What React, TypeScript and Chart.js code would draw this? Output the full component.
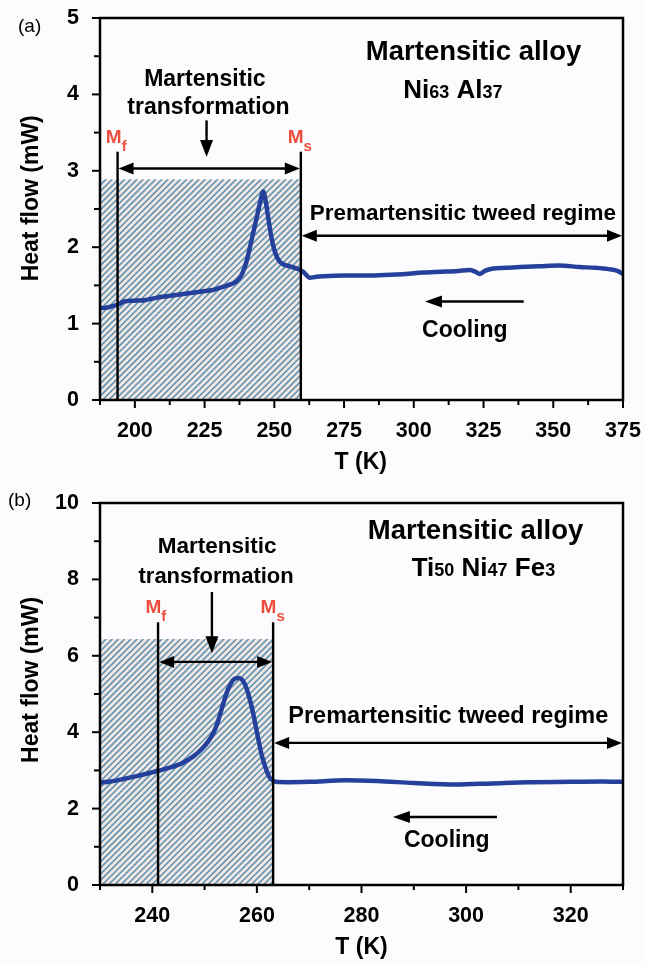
import React, { useEffect, useRef } from 'react';
import { Chart, registerables } from 'chart.js';

Chart.register(...registerables);

const FONT = '"Liberation Sans", Arial, Helvetica, sans-serif';
const RED = '#ee4b3b';
const CURVE = '#24409b';

// ---------- Panel (a): Ni63 Al37 ----------
const aTemps = [187.5, 190, 192, 194, 196, 200, 204, 208, 212, 216, 220, 224, 228, 231.5, 234, 236.4, 238, 239.5, 240.5, 242, 243.5, 245, 246, 247, 248, 249, 250.2, 251.5, 253, 255.5, 258, 260.3, 262.7, 264.5, 267.5, 275, 283, 291.4, 297, 303.3, 310, 316, 320, 322, 323.7, 325.5, 328.4, 333, 338, 345, 352, 359.5, 365, 370.3, 373, 375];
const aHeat = [1.20, 1.21, 1.23, 1.25, 1.29, 1.30, 1.31, 1.34, 1.36, 1.38, 1.40, 1.42, 1.44, 1.48, 1.51, 1.55, 1.62, 1.75, 1.88, 2.12, 2.36, 2.60, 2.73, 2.58, 2.34, 2.12, 1.94, 1.83, 1.78, 1.75, 1.72, 1.68, 1.60, 1.61, 1.62, 1.63, 1.63, 1.64, 1.65, 1.67, 1.68, 1.69, 1.70, 1.68, 1.65, 1.69, 1.72, 1.73, 1.74, 1.75, 1.76, 1.74, 1.73, 1.71, 1.69, 1.65];
const aXTicks = [200, 225, 250, 275, 300, 325, 350, 375];
const aXMinor = [187.5, 212.5, 237.5, 262.5, 287.5, 312.5, 337.5, 362.5];
const aYTicks = [0, 1, 2, 3, 4, 5];
const aYMinor = [0.5, 1.5, 2.5, 3.5, 4.5];

// ---------- Panel (b): Ti50 Ni47 Fe3 ----------
const bTemps = [230, 232, 234.3, 237, 240.6, 243, 245.7, 247.8, 249.6, 250.8, 251.8, 252.6, 253.4, 254.1, 254.7, 255.3, 255.9, 256.6, 257.2, 257.9, 258.5, 259.2, 259.8, 260.4, 261, 261.7, 262.3, 263, 263.6, 266, 270, 277, 283, 290, 298, 305, 312, 320, 326, 330];
const bHeat = [2.68, 2.71, 2.77, 2.85, 2.97, 3.06, 3.19, 3.36, 3.58, 3.78, 4.01, 4.30, 4.67, 4.98, 5.19, 5.34, 5.41, 5.42, 5.37, 5.19, 4.93, 4.55, 4.14, 3.73, 3.36, 3.05, 2.84, 2.74, 2.70, 2.69, 2.70, 2.74, 2.72, 2.67, 2.63, 2.66, 2.69, 2.70, 2.71, 2.70];
const bXTicks = [240, 260, 280, 300, 320];
const bXMinor = [230, 250, 270, 290, 310, 330];
const bYTicks = [0, 2, 4, 6, 8, 10];
const bYMinor = [1, 3, 5, 7, 9];

type Piece = { t: string; size: number; dy?: number };
type Note = { pieces: Piece[]; x: number; y: number; align: 'left' | 'center'; color?: string };

const mLabel = (s: string): Piece[] => [{ t: 'M', size: 19 }, { t: s, size: 15, dy: 8 }];

const aNotes = {
  mf: 193.8, ms: 259.5, hatchTop: 2.89, markTop: 3.25, spanY: 3.03,
  downX: 225.7, downFrom: 3.66, downTo: 3.18,
  regimeY: 2.15, coolFrom: 339.4, coolTo: 304, coolY: 1.29,
  texts: [
    { pieces: [{ t: 'Martensitic', size: 23 }], x: 225.1, y: 4.11, align: 'center' },
    { pieces: [{ t: 'transformation', size: 23 }], x: 226.4, y: 3.74, align: 'center' },
    { pieces: mLabel('f'), x: 189.6, y: 3.36, align: 'left', color: RED },
    { pieces: mLabel('s'), x: 254.8, y: 3.36, align: 'left', color: RED },
    { pieces: [{ t: 'Martensitic alloy', size: 27.5 }], x: 282.8, y: 4.45, align: 'left' },
    { pieces: [{ t: 'Ni', size: 26 }, { t: '63', size: 18 }, { t: ' Al', size: 26 }, { t: '37', size: 18 }], x: 296.2, y: 3.95, align: 'left' },
    { pieces: [{ t: 'Premartensitic tweed regime', size: 22.5 }], x: 262.7, y: 2.35, align: 'left' },
    { pieces: [{ t: 'Cooling', size: 23 }], x: 318.3, y: 0.83, align: 'center' },
  ] as Note[],
};

const bNotes = {
  mf: 241.1, ms: 263.1, hatchTop: 6.44, markTop: 6.88, spanY: 5.84,
  downX: 251.4, downFrom: 7.67, downTo: 6.07,
  regimeY: 3.72, coolFrom: 305.9, coolTo: 286, coolY: 1.78,
  texts: [
    { pieces: [{ t: 'Martensitic', size: 22.5 }], x: 252.4, y: 8.69, align: 'center' },
    { pieces: [{ t: 'transformation', size: 22 }], x: 252.2, y: 7.91, align: 'center' },
    { pieces: mLabel('f'), x: 238.7, y: 7.12, align: 'left', color: RED },
    { pieces: mLabel('s'), x: 260.7, y: 7.12, align: 'left', color: RED },
    { pieces: [{ t: 'Martensitic alloy', size: 27.5 }], x: 281.2, y: 9.05, align: 'left' },
    { pieces: [{ t: 'Ti', size: 26 }, { t: '50', size: 18 }, { t: ' Ni', size: 26 }, { t: '47', size: 18 }, { t: ' Fe', size: 26 }, { t: '3', size: 18 }], x: 289.6, y: 8.1, align: 'left' },
    { pieces: [{ t: 'Premartensitic tweed regime', size: 23.5 }], x: 266, y: 4.24, align: 'left' },
    { pieces: [{ t: 'Cooling', size: 23 }], x: 296.3, y: 0.99, align: 'center' },
  ] as Note[],
};

const panelA = {
  top: 0, canvasH: 480, padTop: 18, axisH: 80,
  xMin: 187.5, xMax: 375, yMin: 0, yMax: 5,
  temps: aTemps, heat: aHeat, xTicks: aXTicks, xMinor: aXMinor, yTicks: aYTicks, yMinor: aYMinor,
  tag: '(a)', tagX: 18, tagY: 32, yTitleAt: 2.64, xTitleAt: 281, notes: aNotes,
};
const panelB = {
  top: 480, canvasH: 485, padTop: 23, axisH: 80,
  xMin: 230, xMax: 330, yMin: 0, yMax: 10,
  temps: bTemps, heat: bHeat, xTicks: bXTicks, xMinor: bXMinor, yTicks: bYTicks, yMinor: bYMinor,
  tag: '(b)', tagX: 8, tagY: 26, yTitleAt: 5.37, xTitleAt: 280, notes: bNotes,
};

function drawPieces(ctx: CanvasRenderingContext2D, pieces: Piece[], x: number, y: number, align: string, color: string) {
  let total = 0;
  for (const p of pieces) {
    ctx.font = `bold ${p.size}px ${FONT}`;
    total += ctx.measureText(p.t).width;
  }
  let cx = align === 'center' ? x - total / 2 : x;
  ctx.fillStyle = color;
  ctx.textAlign = 'left';
  ctx.textBaseline = 'alphabetic';
  for (const p of pieces) {
    ctx.font = `bold ${p.size}px ${FONT}`;
    ctx.fillText(p.t, cx, y + (p.dy || 0));
    cx += ctx.measureText(p.t).width;
  }
}

function arrowHead(ctx: CanvasRenderingContext2D, tx: number, ty: number, dx: number, dy: number, len = 15, half = 6) {
  const bx = tx - dx * len, by = ty - dy * len;
  ctx.beginPath();
  ctx.moveTo(tx, ty);
  ctx.lineTo(bx - dy * half, by + dx * half);
  ctx.lineTo(bx + dy * half, by - dx * half);
  ctx.closePath();
  ctx.fill();
}

function makePlugin(p: any) {
  const n = p.notes;
  return {
    id: 'deco',
    beforeDatasetsDraw(chart: any) {
      const { ctx, scales: { x, y } } = chart;
      const x0 = x.getPixelForValue(p.xMin), x1 = x.getPixelForValue(n.ms);
      const y0 = y.getPixelForValue(0), y1 = y.getPixelForValue(n.hatchTop);
      ctx.save();
      ctx.beginPath();
      ctx.rect(x0, y1, x1 - x0, y0 - y1);
      ctx.clip();
      ctx.fillStyle = '#f3e8e5';
      ctx.fillRect(x0, y1, x1 - x0, y0 - y1);
      ctx.strokeStyle = '#6496b1';
      ctx.lineWidth = 1.7;
      const h = y0 - y1;
      for (let s = x0 - h; s < x1 + 6; s += 6.2) {
        ctx.beginPath();
        ctx.moveTo(s, y0);
        ctx.lineTo(s + h, y1);
        ctx.stroke();
      }
      ctx.restore();
    },
    afterDatasetsDraw(chart: any) {
      const { ctx, scales: { x, y }, chartArea } = chart;
      ctx.save();
      ctx.strokeStyle = '#000';
      ctx.fillStyle = '#000';
      ctx.lineWidth = 2.4;
      for (const t of [n.mf, n.ms]) {
        const px = x.getPixelForValue(t);
        ctx.beginPath();
        ctx.moveTo(px, y.getPixelForValue(0));
        ctx.lineTo(px, y.getPixelForValue(n.markTop));
        ctx.stroke();
      }
      const sy = y.getPixelForValue(n.spanY);
      const ax0 = x.getPixelForValue(n.mf), ax1 = x.getPixelForValue(n.ms);
      ctx.beginPath(); ctx.moveTo(ax0 + 6, sy); ctx.lineTo(ax1 - 6, sy); ctx.stroke();
      arrowHead(ctx, ax0 + 1, sy, -1, 0);
      arrowHead(ctx, ax1 - 1, sy, 1, 0);
      const dxp = x.getPixelForValue(n.downX);
      const dTop = y.getPixelForValue(n.downFrom), dTip = y.getPixelForValue(n.downTo);
      ctx.beginPath(); ctx.moveTo(dxp, dTop); ctx.lineTo(dxp, dTip - 8); ctx.stroke();
      arrowHead(ctx, dxp, dTip, 0, 1, 17, 6.5);
      const ry = y.getPixelForValue(n.regimeY);
      const rx0 = x.getPixelForValue(n.ms), rx1 = chartArea.right;
      ctx.beginPath(); ctx.moveTo(rx0 + 6, ry); ctx.lineTo(rx1 - 6, ry); ctx.stroke();
      arrowHead(ctx, rx0 + 1, ry, -1, 0);
      arrowHead(ctx, rx1 - 1, ry, 1, 0);
      const cy = y.getPixelForValue(n.coolY);
      const cx0 = x.getPixelForValue(n.coolFrom), cx1 = x.getPixelForValue(n.coolTo);
      ctx.beginPath(); ctx.moveTo(cx0, cy); ctx.lineTo(cx1 + 8, cy); ctx.stroke();
      arrowHead(ctx, cx1, cy, -1, 0, 17, 6);
      for (const t of n.texts as Note[]) {
        drawPieces(ctx, t.pieces, x.getPixelForValue(t.x), y.getPixelForValue(t.y), t.align, t.color || '#000');
      }
      ctx.restore();
    },
    afterDraw(chart: any) {
      const { ctx, scales: { x, y }, chartArea: ca } = chart;
      ctx.save();
      ctx.strokeStyle = '#000';
      ctx.lineWidth = 2.5;
      ctx.strokeRect(ca.left, ca.top, ca.right - ca.left, ca.bottom - ca.top);
      ctx.lineWidth = 2;
      const tick = (vals: number[], len: number, axis: 'x' | 'y') => {
        for (const v of vals) {
          ctx.beginPath();
          if (axis === 'x') {
            const px = x.getPixelForValue(v);
            ctx.moveTo(px, ca.bottom); ctx.lineTo(px, ca.bottom + len);
          } else {
            const py = y.getPixelForValue(v);
            ctx.moveTo(ca.left, py); ctx.lineTo(ca.left - len, py);
          }
          ctx.stroke();
        }
      };
      tick(p.xTicks, 8, 'x');
      tick(p.xMinor, 5, 'x');
      tick(p.yTicks, 8, 'y');
      tick(p.yMinor, 6, 'y');
      ctx.fillStyle = '#000';
      ctx.font = `bold 23px ${FONT}`;
      ctx.textAlign = 'center';
      ctx.textBaseline = 'middle';
      ctx.fillText('T (K)', x.getPixelForValue(p.xTitleAt), ca.bottom + 63);
      ctx.save();
      ctx.translate(32, y.getPixelForValue(p.yTitleAt));
      ctx.rotate(-Math.PI / 2);
      ctx.fillText('Heat flow (mW)', 0, 0);
      ctx.restore();
      ctx.font = `19px ${FONT}`;
      ctx.textAlign = 'left';
      ctx.textBaseline = 'alphabetic';
      ctx.fillText(p.tag, p.tagX, p.tagY);
      ctx.restore();
    },
  };
}

const noPad = (s: any) => {
  s.paddingTop = 0;
  s.paddingBottom = 0;
  s.paddingLeft = 0;
  s.paddingRight = 0;
};

function Panel({ p }: { p: any }) {
  const ref = useRef<HTMLCanvasElement | null>(null);
  useEffect(() => {
    if (!ref.current) return;
    const tickFont = { family: FONT, size: 21.5, weight: 'bold' as const };
    const chart = new Chart(ref.current, {
      type: 'line',
      data: {
        datasets: [{
          data: p.temps.map((t: number, i: number) => ({ x: t, y: p.heat[i] })),
          borderColor: CURVE,
          borderWidth: 4.5,
          pointRadius: 0,
          cubicInterpolationMode: 'monotone',
          fill: false,
        }],
      },
      options: {
        animation: false,
        responsive: false,
        maintainAspectRatio: false,
        layout: { padding: { left: 0, right: 22, top: p.padTop, bottom: 0 } },
        plugins: { legend: { display: false }, tooltip: { enabled: false } },
        scales: {
          x: {
            type: 'linear',
            min: p.xMin,
            max: p.xMax,
            afterBuildTicks: (s: any) => { s.ticks = p.xTicks.map((v: number) => ({ value: v })); },
            afterFit: (s: any) => { s.height = p.axisH; noPad(s); },
            grid: { display: false, drawTicks: false, tickLength: 0 },
            border: { display: false },
            ticks: { autoSkip: false, maxRotation: 0, padding: 18, color: '#000', font: tickFont },
          },
          y: {
            type: 'linear',
            min: p.yMin,
            max: p.yMax,
            afterBuildTicks: (s: any) => { s.ticks = p.yTicks.map((v: number) => ({ value: v })); },
            afterFit: (s: any) => { s.width = 100; noPad(s); },
            grid: { display: false, drawTicks: false, tickLength: 0 },
            border: { display: false },
            ticks: { autoSkip: false, padding: 21, color: '#000', font: tickFont },
          },
        },
      },
      plugins: [makePlugin(p)],
    } as any);
    return () => chart.destroy();
  }, [p]);
  return (
    <canvas
      ref={ref}
      width={645}
      height={p.canvasH}
      style={{ position: 'absolute', left: 0, top: p.top, width: 645, height: p.canvasH, display: 'block' }}
    />
  );
}

export default function App() {
  return (
    <div style={{ position: 'absolute', left: 0, top: 0, width: 645, height: 965, background: '#fcfcfe', overflow: 'hidden' }}>
      <Panel p={panelA} />
      <Panel p={panelB} />
    </div>
  );
}
